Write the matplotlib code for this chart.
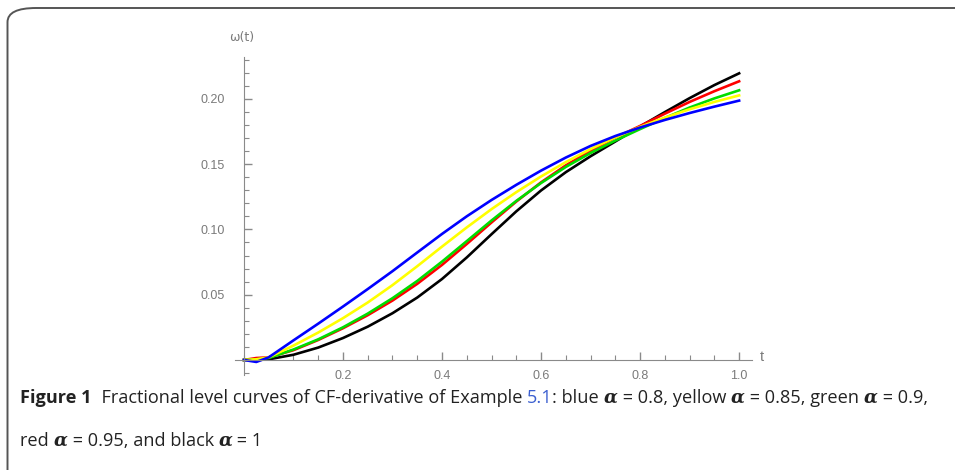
import matplotlib
matplotlib.use('Agg')
import matplotlib.pyplot as plt
from matplotlib.patches import FancyBboxPatch
from matplotlib.ticker import MultipleLocator, FixedLocator

# values
t = [0.0, 0.025, 0.05, 0.1, 0.15, 0.2, 0.25, 0.3, 0.35, 0.4, 0.45, 0.5,
     0.55, 0.6, 0.65, 0.7, 0.75, 0.8, 0.85, 0.9, 0.95, 1.0]
w_blue = [0.0, -0.0015, 0.002, 0.015, 0.0278, 0.0409, 0.0543, 0.068, 0.0823, 0.0965, 0.110, 0.1225,
          0.1341, 0.145, 0.155, 0.1639, 0.1715, 0.178, 0.1838, 0.1891, 0.194, 0.1986]
w_yellow = [0.0, 0.0005, 0.002, 0.011, 0.021, 0.032, 0.044, 0.0573, 0.0718, 0.0868, 0.1015, 0.1155,
            0.1285, 0.1405, 0.1515, 0.1615, 0.1705, 0.1785, 0.1856, 0.192, 0.1976, 0.2026]
w_green = [0.0, 0.0005, 0.0015, 0.008, 0.0158, 0.025, 0.0355, 0.0473, 0.0605, 0.0753, 0.091, 0.1068,
           0.1218, 0.1355, 0.1478, 0.1585, 0.168, 0.1768, 0.1853, 0.1933, 0.2003, 0.2065]
w_red = [0.0, 0.0015, 0.002, 0.0075, 0.0153, 0.0243, 0.0343, 0.0455, 0.0583, 0.0728, 0.0888, 0.1053,
         0.1213, 0.136, 0.149, 0.1603, 0.1703, 0.1792, 0.1886, 0.1976, 0.2058, 0.2134]
w_black = [0.0, 0.0, 0.0005, 0.004, 0.0095, 0.0168, 0.0255, 0.0358, 0.0478, 0.062, 0.0785, 0.0963,
           0.1138, 0.1298, 0.1438, 0.156, 0.1673, 0.1788, 0.1898, 0.2005, 0.2105, 0.2195]

y_ticks = [0.05, 0.10, 0.15, 0.20]
y_labels = ['0.05', '0.10', '0.15', '0.20']
x_ticks = [0.2, 0.4, 0.6, 0.8, 1.0]
x_labels = ['0.2', '0.4', '0.6', '0.8', '1.0']

W, H = 955, 470
fig = plt.figure(figsize=(W / 100, H / 100), dpi=100)

# frame round the figure (rounded top-left corner, runs off right and bottom)
frame = FancyBboxPatch((7.5 / W, -0.2), 1.3, 0.2 + (H - 8) / H,
                       boxstyle='round,pad=0,rounding_size=0.03',
                       transform=fig.transFigure, fc='none', ec='#555555', lw=1.4)
fig.add_artist(frame)

ax = fig.add_axes([235 / W, 95 / H, 517 / W, 318 / H])
ax.set_xlim(-0.018, 1.026)
ax.set_ylim(-0.0115, 0.232)

axis_col = '#8a8a8a'
lab_col = '#7a7a7a'
for s in ['top', 'right']:
    ax.spines[s].set_visible(False)
ax.spines['left'].set_position(('data', 0))
ax.spines['bottom'].set_position(('data', 0))
ax.spines['left'].set_color(axis_col)
ax.spines['bottom'].set_color(axis_col)

ax.xaxis.set_major_locator(FixedLocator(x_ticks))
ax.set_xticklabels(x_labels)
ax.yaxis.set_major_locator(FixedLocator(y_ticks))
ax.set_yticklabels(y_labels)
ax.xaxis.set_minor_locator(MultipleLocator(0.05))
ax.yaxis.set_minor_locator(MultipleLocator(0.01))
ax.tick_params(which='major', direction='in', length=6, width=1, color=axis_col,
               labelcolor=lab_col, labelsize=9)
ax.tick_params(which='minor', direction='in', length=3.5, width=0.8, color=axis_col)
ax.tick_params(axis='y', which='major', pad=14)
ax.tick_params(axis='x', which='major', pad=7)
for lb in ax.get_xticklabels() + ax.get_yticklabels():
    lb.set_family('Liberation Sans')

lw = 1.9
ax.plot(t, w_black, color='black', lw=lw)
ax.plot(t, w_red, color='#ff0000', lw=lw)
ax.plot(t, w_green, color='#00dd00', lw=lw)
ax.plot(t, w_yellow, color='#ffff00', lw=lw)
ax.plot(t, w_blue, color='#0000ff', lw=lw)

fig.text(242 / W, 1 - 38 / H, 'ω(t)', color=lab_col, fontsize=9, family='DejaVu Sans',
         ha='center', va='center')
fig.text(762 / W, 1 - 357 / H, 't', color=lab_col, fontsize=10.5, family='Liberation Sans',
         ha='center', va='center')

# caption, built piece by piece so the alphas and the link can differ
cap_font = 'Open Sans'
cap_size = 13.1


def caption_line(parts, x, y):
    prev = None
    for txt, kind in parts:
        kw = dict(fontsize=cap_size, family=cap_font, color='#222222', va='baseline')
        if kind == 'bold':
            kw['weight'] = 'bold'
        elif kind == 'alpha':
            kw.update(family='DejaVu Serif', weight='bold', style='italic')
        elif kind == 'link':
            kw['color'] = '#3b5fd0'
        if prev is None:
            prev = fig.text(x, y, txt, **kw)
        else:
            prev = ax.annotate(txt, xy=(1, y), xycoords=(prev, 'figure fraction'),
                               annotation_clip=False, **kw)


caption_line([('Figure 1', 'bold'),
              ('  Fractional level curves of CF-derivative of Example ', ''),
              ('5.1', 'link'),
              (': blue ', ''), ('α', 'alpha'), (' = 0.8, yellow ', ''), ('α', 'alpha'),
              (' = 0.85, green ', ''), ('α', 'alpha'), (' = 0.9,', '')],
             20 / W, 1 - 403 / H)
caption_line([('red ', ''), ('α', 'alpha'), (' = 0.95, and black ', ''), ('α', 'alpha'),
              (' = 1', '')],
             20 / W, 1 - 446 / H)

fig.savefig('out.png', dpi=100)
